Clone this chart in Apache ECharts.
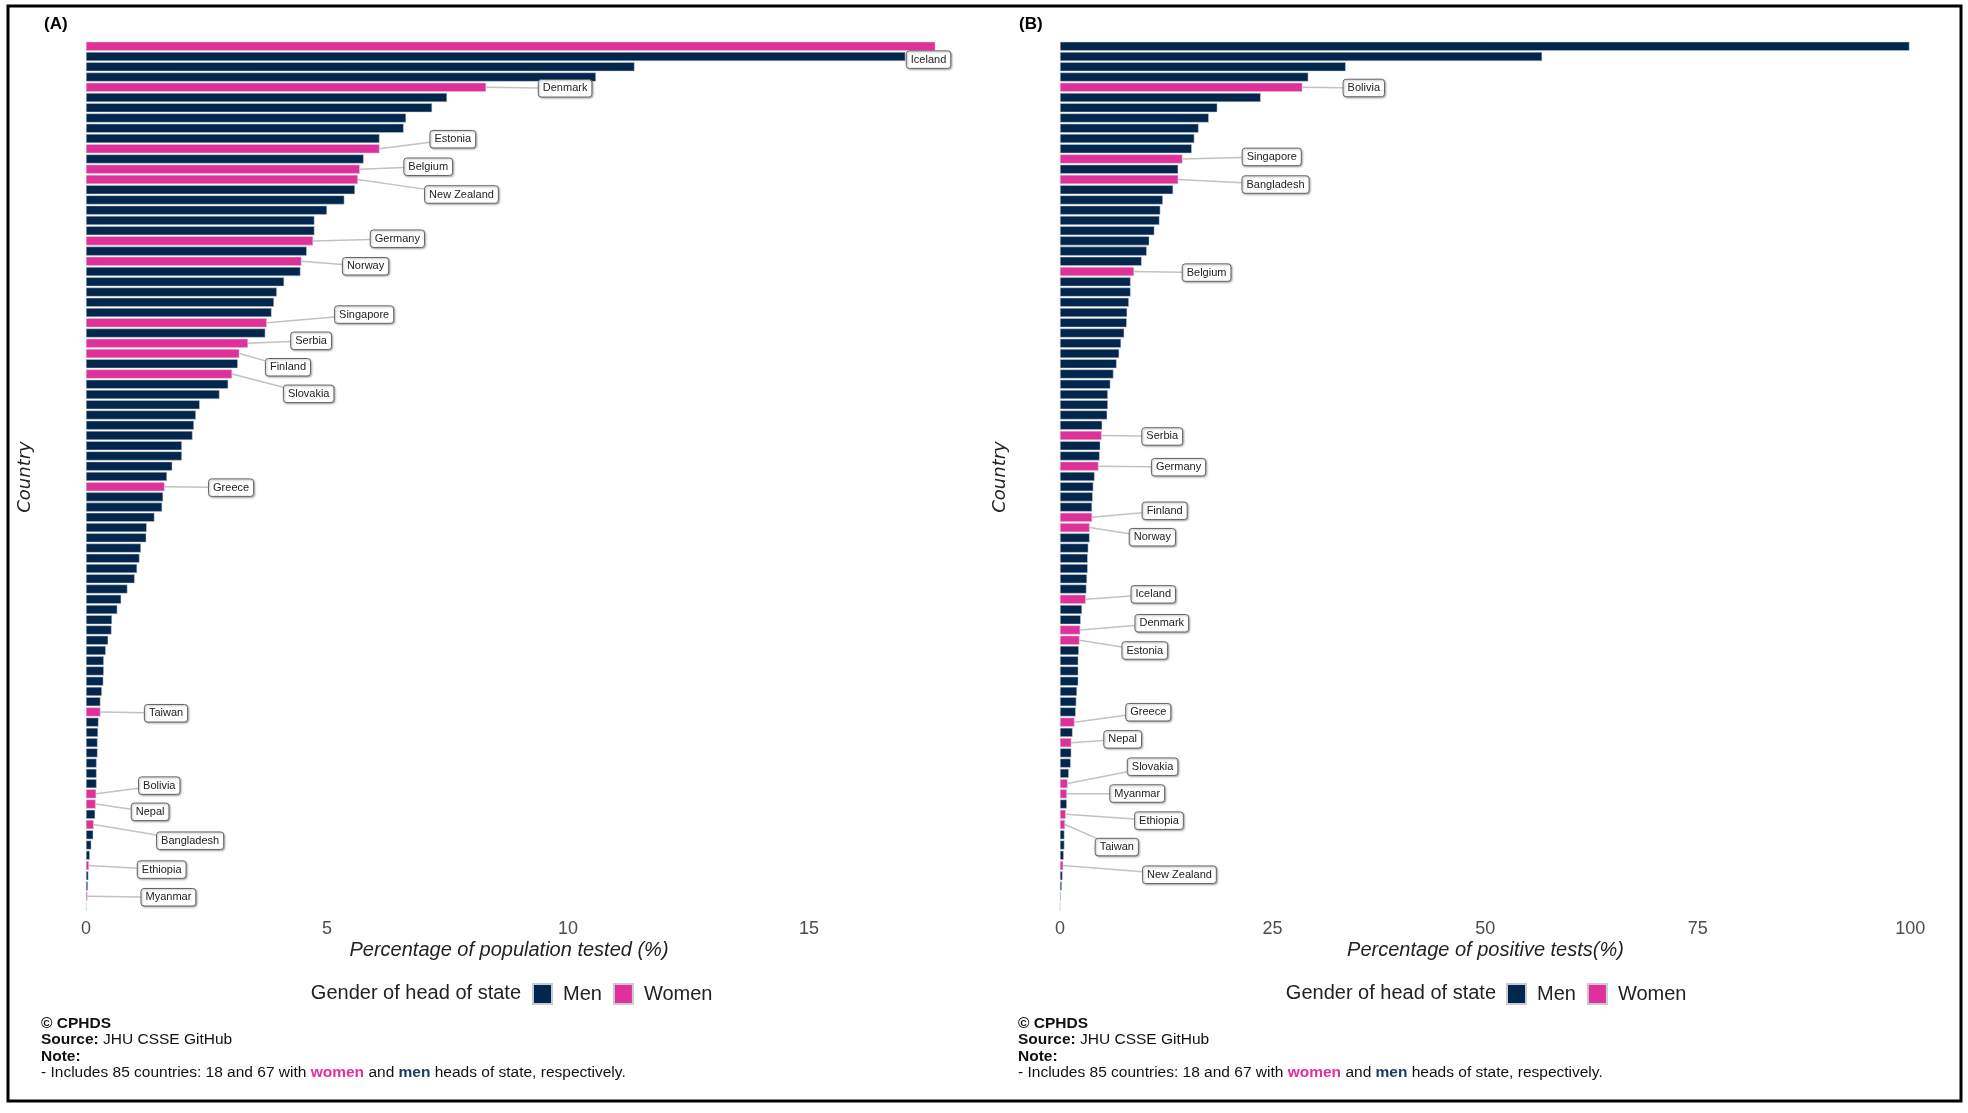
<!DOCTYPE html>
<html>
<head>
<meta charset="utf-8">
<script src="https://cdn.jsdelivr.net/npm/echarts@6/dist/echarts.min.js"></script>
<style>
html,body{margin:0;padding:0;background:#fff;}
#chart{width:1968px;height:1113px;}
</style>
</head>
<body>
<div id="chart"></div>
<script>
// ---------- DATA ----------
// Panel A: percentage of population tested (%), 85 countries sorted descending
const valuesA = [17.62,17.00,11.38,10.58,8.30,7.49,7.18,6.64,6.59,6.09,
  6.09,5.76,5.68,5.64,5.58,5.36,5.00,4.74,4.74,4.71,
  4.58,4.47,4.45,4.11,3.96,3.90,3.85,3.75,3.72,3.36,
  3.18,3.15,3.03,2.95,2.77,2.36,2.28,2.24,2.21,1.99,
  1.99,1.79,1.68,1.63,1.60,1.58,1.42,1.26,1.25,1.14,
  1.11,1.06,1.01,0.86,0.73,0.65,0.54,0.53,0.46,0.41,
  0.37,0.37,0.36,0.33,0.30,0.30,0.26,0.25,0.24,0.24,
  0.22,0.22,0.22,0.21,0.20,0.19,0.16,0.15,0.11,0.08,
  0.06,0.05,0.04,0.03,0.01];
// rows (1-based, from top) held by women heads of state
const womenRowsA = [1,5,11,13,14,20,22,28,30,31,33,44,66,74,75,77,81,84];
const womenNamesA = ['Iceland','Denmark','Estonia','Belgium','New Zealand','Germany','Norway','Singapore','Serbia','Finland','Slovakia','Greece','Taiwan','Bolivia','Nepal','Bangladesh','Ethiopia','Myanmar'];
// label anchor (data units: x value, row)
const labelXA = [17.48,9.94,7.61,7.10,7.79,6.46,5.80,5.77,4.67,4.19,4.62,3.01,1.66,1.52,1.33,2.16,1.57,1.71];
const labelRowA = [2.3,5.1,10.07,12.76,15.47,19.79,22.48,27.2,29.76,32.34,34.94,44.1,66.13,73.2,75.76,78.58,81.4,84.1];
const ticksA = [0,5,10,15];

// Panel B: percentage of positive tests (%)
const valuesB = [99.9,56.7,33.6,29.2,28.5,23.6,18.5,17.5,16.3,15.8,
  15.5,14.4,13.9,13.9,13.3,12.1,11.8,11.7,11.1,10.5,
  10.2,9.6,8.7,8.3,8.3,8.1,7.9,7.85,7.55,7.18,
  6.96,6.66,6.29,5.92,5.63,5.63,5.55,4.96,4.89,4.74,
  4.66,4.52,4.07,3.92,3.85,3.77,3.77,3.48,3.48,3.33,
  3.26,3.26,3.18,3.11,3.03,2.59,2.44,2.37,2.29,2.22,
  2.15,2.15,2.15,2.00,1.92,1.85,1.70,1.48,1.33,1.33,
  1.26,1.04,0.89,0.81,0.81,0.67,0.59,0.52,0.52,0.44,
  0.37,0.30,0.22,0.10,0.02];
const womenRowsB = [5,12,14,23,39,42,47,48,55,58,59,67,69,73,74,76,77,81];
const womenNamesB = ['Bolivia','Singapore','Bangladesh','Belgium','Serbia','Germany','Finland','Norway','Iceland','Denmark','Estonia','Greece','Nepal','Slovakia','Myanmar','Ethiopia','Taiwan','New Zealand'];
const labelXB = [35.73,24.9,25.35,17.24,12.02,13.94,12.31,10.86,10.97,11.97,9.97,10.38,7.37,10.89,9.08,11.64,6.68,14.05];
const labelRowB = [5.07,11.8,14.5,23.1,39.1,42.1,46.36,48.94,54.52,57.34,60.0,66.03,68.68,71.35,73.97,76.62,79.2,81.9];
const ticksB = [0,25,50,75,100];

// ---------- STYLE ----------
const NAVY = '#03264d';
const PINK = '#e0309a';
const FONT = '"Liberation Sans", Arial, Helvetica, sans-serif';

const chart = echarts.init(document.getElementById('chart'), null, {renderer:'canvas'});

function cats(vals){ return vals.map((_, i) => 'row' + (i + 1)); }
function split(vals, womenRows, women){
  return vals.map((v, i) => (womenRows.indexOf(i + 1) >= 0) === women ? v : '-');
}

const measureCtx = document.createElement('canvas').getContext('2d');
measureCtx.font = '11px ' + FONT;

function labelSeries(idx, vals, rows, names, lx, lrow){
  const data = names.map((n, i) => [vals[rows[i] - 1], rows[i] - 1, lx[i], lrow[i] - 1]);
  return {
    type: 'custom', xAxisIndex: idx, yAxisIndex: idx, z: 10, silent: true,
    clip: false, encode: {x: 0, y: 1},
    data: data,
    renderItem: function(params, api){
      const v = api.value(0), r = api.value(1), lxv = api.value(2), lr = api.value(3);
      const name = names[params.dataIndex];
      const p0 = api.coord([v, r]);
      const band = api.size([0, 1])[1];
      const base = api.coord([lxv, 0]);
      const cx = base[0], cy = base[1] + lr * band;
      const tw = measureCtx.measureText(name).width;
      const w = tw + 9, h = 17.5;
      const hw = w / 2, hh = h / 2;
      const dx = cx - p0[0], dy = cy - p0[1];
      const s = Math.max(Math.abs(dx) / hw, Math.abs(dy) / hh);
      const children = [];
      if (s > 1) {
        const ex = cx - dx / s, ey = cy - dy / s;
        if (Math.hypot(ex - p0[0], ey - p0[1]) > 6) {
          children.push({type:'line', shape:{x1:p0[0], y1:p0[1], x2:ex, y2:ey},
            style:{stroke:'#c2c2c2', lineWidth:1.5}});
        }
      }
      children.push({type:'rect', shape:{x:cx - hw, y:cy - hh, width:w, height:h, r:3},
        style:{fill:'#ffffff', stroke:'#666666', lineWidth:1,
          shadowBlur:2, shadowColor:'rgba(0,0,0,0.3)', shadowOffsetX:1, shadowOffsetY:1}});
      children.push({type:'text', x:cx, y:cy,
        style:{text:name, align:'center', verticalAlign:'middle', fill:'#222',
          fontSize:11, fontFamily:FONT}});
      return {type:'group', children: children};
    }
  };
}

function barSeries(idx, vals, rows, women){
  return {
    type:'bar', name: women ? 'Women' : 'Men', xAxisIndex: idx, yAxisIndex: idx,
    data: split(vals, rows, women), barGap:'-100%', barCategoryGap:'12%',
    color: women ? PINK : NAVY,
    itemStyle:{color: women ? PINK : NAVY, borderColor:'#c7ccd4', borderWidth:0.5},
    emphasis:{disabled:true}
  };
}

const bandA = 48.2;   // px per unit (A)
const bandB = 8.503;  // px per unit (B)
const maxA = 18.5, maxB = 105;
const gridTop = 41.2, gridH = 870.4;

function xAxis(idx, max, interval){
  return {
    type:'value', gridIndex: idx, min:0, max:max, interval:interval,
    axisLine:{show:false}, axisTick:{show:false}, splitLine:{show:false},
    axisLabel:{color:'#4d4d4d', fontSize:18, fontFamily:FONT, margin:8,
      formatter: v => (v % interval === 0 ? String(v) : '')}
  };
}
function yAxis(idx, vals){
  return {type:'category', gridIndex: idx, inverse:true, data: cats(vals),
    axisLine:{show:false}, axisTick:{show:false}, axisLabel:{show:false}, splitLine:{show:false}};
}

function legend(left){
  return {data:['Men','Women'], left:left, top:983, padding:0, orient:'horizontal', icon:'rect',
    itemWidth:19, itemHeight:20, itemGap:11, selectedMode:false,
    textStyle:{fontSize:20, color:'#222', fontFamily:FONT, padding:[0,0,0,6]}};
}

function caption(x){
  return {type:'text', left:x, top:1015.5,
    style:{text:['{b|© CPHDS}','{b|Source:} JHU CSSE GitHub','{b|Note:}',
      '- Includes 85 countries: 18 and 67 with {w|women} and {m|men} heads of state, respectively.'].join('\n'),
      fontSize:15.5, fontFamily:FONT, fill:'#111', lineHeight:16.4,
      rich:{b:{fontWeight:'bold', fontSize:15.5, fontFamily:FONT, fill:'#111', lineHeight:16.4},
            w:{fill:PINK, fontSize:15.5, fontWeight:'bold', fontFamily:FONT, lineHeight:16.4},
            m:{fill:'#1c3a66', fontSize:15.5, fontWeight:'bold', fontFamily:FONT, lineHeight:16.4}}}};
}

const option = {
  animation:false,
  backgroundColor:'#ffffff',
  grid:[
    {left:86, top:gridTop, width: maxA * bandA, height: gridH},
    {left:1060, top:gridTop, width: maxB * bandB, height: gridH}
  ],
  xAxis:[xAxis(0, maxA, ticksA[1] - ticksA[0]), xAxis(1, maxB, ticksB[1] - ticksB[0])],
  yAxis:[yAxis(0, valuesA), yAxis(1, valuesB)],
  legend:[legend(532), legend(1506)],
  series:[
    barSeries(0, valuesA, womenRowsA, false),
    barSeries(0, valuesA, womenRowsA, true),
    barSeries(1, valuesB, womenRowsB, false),
    barSeries(1, valuesB, womenRowsB, true),
    labelSeries(0, valuesA, womenRowsA, womenNamesA, labelXA, labelRowA),
    labelSeries(1, valuesB, womenRowsB, womenNamesB, labelXB, labelRowB)
  ],
  graphic:[
    {type:'rect', shape:{x:8, y:6, width:1953, height:1095}, style:{fill:'none', stroke:'#000', lineWidth:3}, z:-1},
    {type:'text', left:44, top:15.5, style:{text:'(A)', fontSize:17, fontWeight:'bold', fontFamily:FONT, fill:'#000'}},
    {type:'text', left:1019, top:15.5, style:{text:'(B)', fontSize:17, fontWeight:'bold', fontFamily:FONT, fill:'#000'}},
    {type:'text', x:509, y:950, style:{text:'Percentage of population tested (%)', align:'center', verticalAlign:'middle',
      fontSize:20, fontStyle:'italic', fontFamily:FONT, fill:'#222'}},
    {type:'text', x:1485.5, y:950, style:{text:'Percentage of positive tests(%)', align:'center', verticalAlign:'middle',
      fontSize:20, fontStyle:'italic', fontFamily:FONT, fill:'#222'}},
    {type:'text', x:25, y:477, rotation:Math.PI/2, style:{text:'Country', align:'center', verticalAlign:'middle',
      fontSize:18, fontStyle:'italic', fontFamily:'"DejaVu Sans", sans-serif', fill:'#222'}},
    {type:'text', x:1000, y:477, rotation:Math.PI/2, style:{text:'Country', align:'center', verticalAlign:'middle',
      fontSize:18, fontStyle:'italic', fontFamily:'"DejaVu Sans", sans-serif', fill:'#222'}},
    {type:'text', x:521, y:993, style:{text:'Gender of head of state', align:'right', verticalAlign:'middle',
      fontSize:20, fontFamily:FONT, fill:'#222'}},
    {type:'text', x:1496, y:993, style:{text:'Gender of head of state', align:'right', verticalAlign:'middle',
      fontSize:20, fontFamily:FONT, fill:'#222'}},
    caption(41),
    caption(1018)
  ]
};
chart.setOption(option);
</script>
</body>
</html>
